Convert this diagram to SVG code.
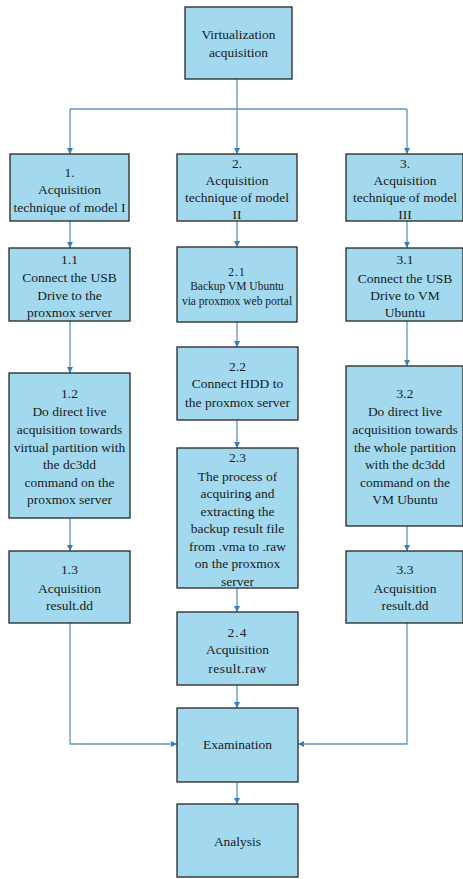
<svg xmlns="http://www.w3.org/2000/svg" width="463" height="879" viewBox="0 0 463 879">
<style>
.box{fill:#a3d9ef;stroke:#262626;stroke-width:1.3}
.t{font-family:"Liberation Serif","DejaVu Serif",serif;font-size:13.5px;fill:#1a1a1a;text-anchor:middle}
.s{font-size:11.5px}
.c{fill:none;stroke:#5a96c6;stroke-width:1.3}
</style>
<defs>
<marker id="ah" viewBox="0 0 8 8" refX="8" refY="4" markerWidth="6" markerHeight="6" markerUnits="userSpaceOnUse" orient="auto">
<path d="M0,0 L8,4 L0,8 Z" fill="#3d7db5"/>
</marker>
</defs>
<g id="connectors">
<path class="c" d="M237,79 V109"/>
<path class="c" d="M70,109 H407"/>
<path class="c" d="M70,109 V154" marker-end="url(#ah)"/>
<path class="c" d="M237,109 V154" marker-end="url(#ah)"/>
<path class="c" d="M407,109 V154" marker-end="url(#ah)"/>
<path class="c" d="M70,221 V248" marker-end="url(#ah)"/>
<path class="c" d="M70,321 V373" marker-end="url(#ah)"/>
<path class="c" d="M70,518 V551" marker-end="url(#ah)"/>
<path class="c" d="M237,221 V247" marker-end="url(#ah)"/>
<path class="c" d="M237,322 V347" marker-end="url(#ah)"/>
<path class="c" d="M237,420 V448" marker-end="url(#ah)"/>
<path class="c" d="M237,588 V612" marker-end="url(#ah)"/>
<path class="c" d="M237,685 V708" marker-end="url(#ah)"/>
<path class="c" d="M237,782 V804" marker-end="url(#ah)"/>
<path class="c" d="M407,221 V248" marker-end="url(#ah)"/>
<path class="c" d="M407,321 V366" marker-end="url(#ah)"/>
<path class="c" d="M407,526 V551" marker-end="url(#ah)"/>
<path class="c" d="M70,623 V744 H177" marker-end="url(#ah)"/>
<path class="c" d="M407,623 V744 H298" marker-end="url(#ah)"/>
</g>
<g id="n0"><rect class="box" x="185" y="7" width="107" height="72"/>
<text class="t"><tspan x="238.5" y="38.5">Virtualization</tspan><tspan x="238.5" y="56.5">acquisition</tspan></text></g>
<g id="n1"><rect class="box" x="10" y="154" width="119" height="67"/>
<text class="t"><tspan x="69.5" y="176.5">1.</tspan><tspan x="69.5" y="193.5">Acquisition</tspan><tspan x="69.5" y="211.5">technique of model I</tspan></text></g>
<g id="n2"><rect class="box" x="177" y="154" width="120" height="67"/>
<text class="t"><tspan x="237" y="167.5">2.</tspan><tspan x="237" y="185">Acquisition</tspan><tspan x="237" y="202">technique of model</tspan><tspan x="237" y="219">II</tspan></text></g>
<g id="n3"><rect class="box" x="346" y="154" width="117" height="67"/>
<text class="t"><tspan x="405" y="167.5">3.</tspan><tspan x="405" y="185">Acquisition</tspan><tspan x="405" y="202">technique of model</tspan><tspan x="405" y="219">III</tspan></text></g>
<g id="n11"><rect class="box" x="9" y="248" width="121" height="73"/>
<text class="t"><tspan x="69.5" y="263.5">1.1</tspan><tspan x="69.5" y="281.5">Connect the USB</tspan><tspan x="69.5" y="299.5">Drive to the</tspan><tspan x="69.5" y="317">proxmox server</tspan></text></g>
<g id="n21"><rect class="box" x="177" y="247" width="120" height="75"/>
<text class="t s"><tspan x="237" y="276" letter-spacing="1">2.1</tspan><tspan x="237" y="290">Backup VM Ubuntu</tspan><tspan x="237" y="305">via proxmox web portal</tspan></text></g>
<g id="n31"><rect class="box" x="346" y="248" width="117" height="73"/>
<text class="t"><tspan x="405" y="263.5">3.1</tspan><tspan x="405" y="282.5">Connect the USB</tspan><tspan x="405" y="299.5">Drive to VM</tspan><tspan x="405" y="317">Ubuntu</tspan></text></g>
<g id="n12"><rect class="box" x="9" y="373" width="121" height="145"/>
<text class="t"><tspan x="69.5" y="397.5">1.2</tspan><tspan x="69.5" y="415.5">Do direct live</tspan><tspan x="69.5" y="433.5">acquisition towards</tspan><tspan x="69.5" y="451.5">virtual partition with</tspan><tspan x="69.5" y="468.5">the dc3dd</tspan><tspan x="69.5" y="486.5">command on the</tspan><tspan x="69.5" y="503.5">proxmox server</tspan></text></g>
<g id="n22"><rect class="box" x="177" y="347" width="121" height="73"/>
<text class="t"><tspan x="237.5" y="370.5">2.2</tspan><tspan x="237.5" y="387.5">Connect HDD to</tspan><tspan x="237.5" y="406.5">the proxmox server</tspan></text></g>
<g id="n32"><rect class="box" x="346" y="366" width="117" height="160"/>
<text class="t"><tspan x="405" y="397.5">3.2</tspan><tspan x="405" y="415.5">Do direct live</tspan><tspan x="405" y="433.5">acquisition towards</tspan><tspan x="405" y="451.5">the whole partition</tspan><tspan x="405" y="468.5">with the dc3dd</tspan><tspan x="405" y="486.5">command on the</tspan><tspan x="405" y="503.5">VM Ubuntu</tspan></text></g>
<g id="n23"><rect class="box" x="177" y="448" width="121" height="140"/>
<text class="t"><tspan x="237.5" y="461.5">2.3</tspan><tspan x="237.5" y="480.5">The process of</tspan><tspan x="237.5" y="497.5">acquiring and</tspan><tspan x="237.5" y="515.5">extracting the</tspan><tspan x="237.5" y="532.5">backup result file</tspan><tspan x="237.5" y="550.5">from .vma to .raw</tspan><tspan x="237.5" y="567.5">on the proxmox</tspan><tspan x="237.5" y="585.5">server</tspan></text></g>
<g id="n13"><rect class="box" x="9" y="551" width="121" height="72"/>
<text class="t"><tspan x="69.5" y="573.5">1.3</tspan><tspan x="69.5" y="592.5">Acquisition</tspan><tspan x="69.5" y="609.5">result.dd</tspan></text></g>
<g id="n33"><rect class="box" x="346" y="551" width="117" height="72"/>
<text class="t"><tspan x="405" y="573.5">3.3</tspan><tspan x="405" y="592.5">Acquisition</tspan><tspan x="405" y="609.5">result.dd</tspan></text></g>
<g id="n24"><rect class="box" x="177" y="612" width="121" height="73"/>
<text class="t"><tspan x="237.5" y="636.5" letter-spacing="1">2.4</tspan><tspan x="237.5" y="653.5">Acquisition</tspan><tspan x="237.5" y="672.5" letter-spacing="0.5">result.raw</tspan></text></g>
<g id="n4"><rect class="box" x="177" y="708" width="121" height="74"/>
<text class="t" x="237.5" y="748.5">Examination</text></g>
<g id="n5"><rect class="box" x="177" y="804" width="121" height="73"/>
<text class="t" x="237.5" y="845.5">Analysis</text></g>
</svg>
